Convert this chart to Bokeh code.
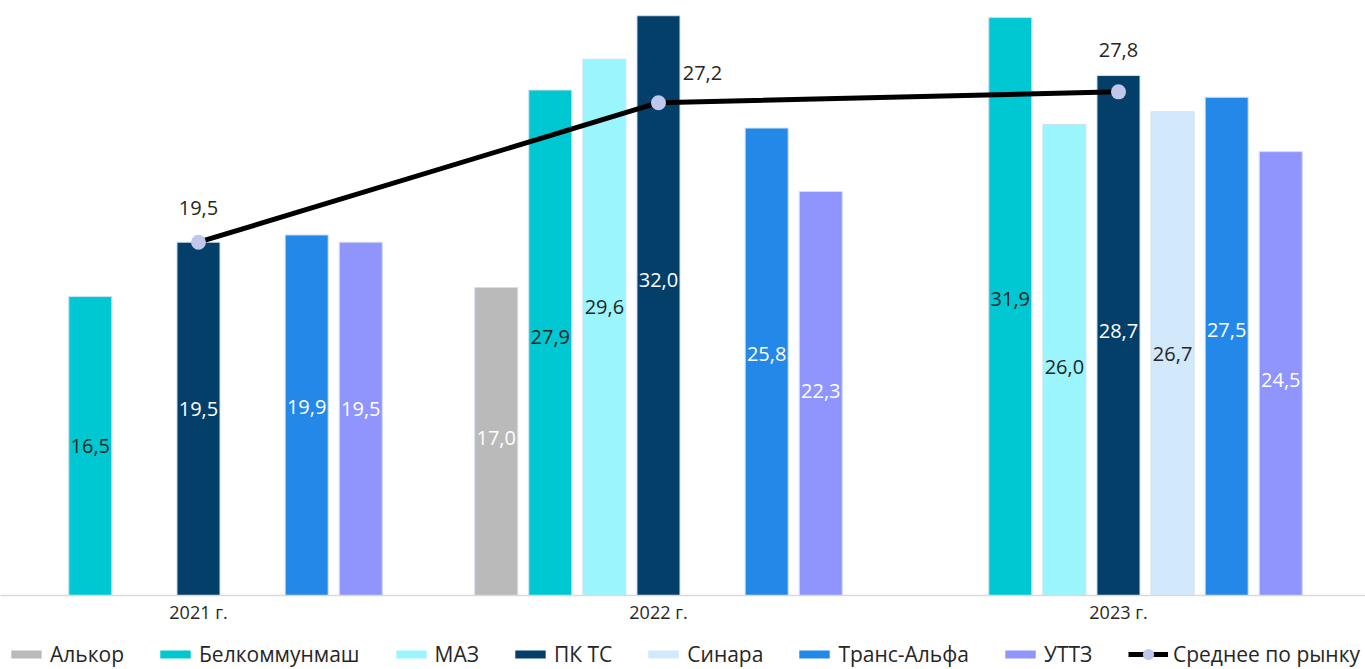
from bokeh.plotting import figure
from bokeh.layouts import column
from bokeh.models import Range1d, FixedTicker, Legend, LegendItem, ColumnDataSource
from bokeh.core.properties import value
from bokeh.embed import file_html
from bokeh.resources import INLINE

years = ["2021 г.", "2022 г.", "2023 г."]
series = ["Алькор", "Белкоммунмаш", "МАЗ", "ПК ТС", "Синара", "Транс-Альфа", "УТТЗ"]
alkor = [None, 17.0, None]
belkom = [16.5, 27.9, 31.9]
maz = [None, 29.6, 26.0]
pkts = [19.5, 32.0, 28.7]
sinara = [None, None, 26.7]
trans = [19.9, 25.8, 27.5]
uttz = [19.5, 22.3, 24.5]
average = [19.5, 27.2, 27.8]
avg_name = "Среднее по рынку"

values = [alkor, belkom, maz, pkts, sinara, trans, uttz]
colors = ["#BABABA", "#00C8D2", "#9BF5FC", "#033F69", "#D2E8FB", "#2388E8", "#9095FE"]
label_colors = ["#FFFFFF", "#262626", "#262626", "#FFFFFF", "#262626", "#FFFFFF", "#FFFFFF"]

FONT = "Open Sans"
DARK = "#262626"

# style: small pixel nudges of bar value labels (series index, group index) -> px
label_nudge = {(3, 0): -10, (5, 0): -8, (6, 0): -10, (0, 1): -4, (1, 1): -6,
               (2, 1): -20, (3, 1): -26, (5, 1): -8, (6, 1): -2, (1, 2): -8,
               (2, 2): 7, (3, 2): -5, (5, 2): -16, (6, 2): 6}

p = figure(frame_width=1365, frame_height=587, output_backend="svg", toolbar_location=None,
           x_range=Range1d(-0.4304, 2.537), y_range=Range1d(0, 32.4),
           y_axis_location=None, min_border_left=0, min_border_right=0,
           min_border_top=8, min_border_bottom=32)
p.outline_line_color = None
p.xgrid.visible = False
p.ygrid.visible = False
p.background_fill_color = "white"
p.border_fill_color = "white"

slot = 0.1176
bw = 0.0935
for i, (name, vals) in enumerate(zip(series, values)):
    xs, tops, labs, offs = [], [], [], []
    for g, v in enumerate(vals):
        if v is None:
            continue
        xs.append(g + (i - 3) * slot)
        tops.append(v)
        labs.append(f"{v:.1f}".replace(".", ","))
        offs.append(label_nudge.get((i, g), 0))
    src = ColumnDataSource(dict(x=xs, top=tops, mid=[t / 2 for t in tops], lab=labs, off=offs))
    p.vbar(x="x", top="top", width=bw, bottom=0, source=src,
           fill_color=colors[i], line_color="#CFE0F0", line_width=1)
    p.text(x="x", y="mid", text="lab", source=src, y_offset="off", text_align="center",
           text_baseline="middle", text_font=value(FONT), text_font_size="20px",
           text_color=label_colors[i])

gx = list(range(len(years)))
p.line(gx, average, line_color="black", line_width=5)
p.scatter(gx, average, size=15, fill_color="#BFC8EC", line_color=None)
dx = [0, 44, 0]
dy = [-34, -30, -42]
p.text(x=gx, y=average, text=[f"{v:.1f}".replace(".", ",") for v in average],
       x_offset=dx, y_offset=dy, text_align="center", text_baseline="middle",
       text_font=value(FONT), text_font_size="20px", text_color=DARK)

ax = p.xaxis[0]
ax.ticker = FixedTicker(ticks=gx)
ax.major_label_overrides = {i: y for i, y in enumerate(years)}
ax.major_tick_line_color = None
ax.minor_tick_line_color = None
ax.major_tick_out = 0
ax.major_tick_in = 0
ax.axis_line_color = "#D9D9D9"
ax.axis_line_width = 1.5
ax.major_label_standoff = 4
ax.major_label_text_font = FONT
ax.major_label_text_font_size = "18px"
ax.major_label_text_color = DARK

# legend strip (its swatch glyphs sit outside the visible range)
lg = figure(frame_width=1365, frame_height=42, output_backend="svg", toolbar_location=None,
            x_range=Range1d(0, 1), y_range=Range1d(0, 1),
            x_axis_location=None, y_axis_location=None,
            min_border_left=0, min_border_right=0, min_border_top=0, min_border_bottom=0)
lg.outline_line_color = None
lg.xgrid.visible = False
lg.ygrid.visible = False
items = []
for i, name in enumerate(series):
    r = lg.vbar(x=[-5], top=[-5], bottom=[-6], width=0.1, fill_color=colors[i], line_color=None)
    items.append(LegendItem(label=name, renderers=[r]))
lr = lg.line(x=[-5, -4], y=[-5, -5], line_color="black", line_width=5)
sr = lg.scatter(x=[-5], y=[-5], size=15, fill_color="#BFC8EC", line_color=None)

common = dict(orientation="horizontal", label_standoff=5, spacing=32,
              padding=0, margin=0, border_line_color=None,
              label_text_font=FONT, label_text_font_size="21px",
              label_text_color=DARK, background_fill_alpha=0)
legend = Legend(items=items, location=(7, 1), glyph_width=38, glyph_height=10, **common)
legend2 = Legend(items=[LegendItem(label=avg_name, renderers=[lr, sr])],
                 location=(1128, 1), glyph_width=40, glyph_height=28, **common)
lg.add_layout(legend)
lg.add_layout(legend2)

layout = column(p, lg, spacing=0)
open("out.html", "w").write(file_html(layout, INLINE))
